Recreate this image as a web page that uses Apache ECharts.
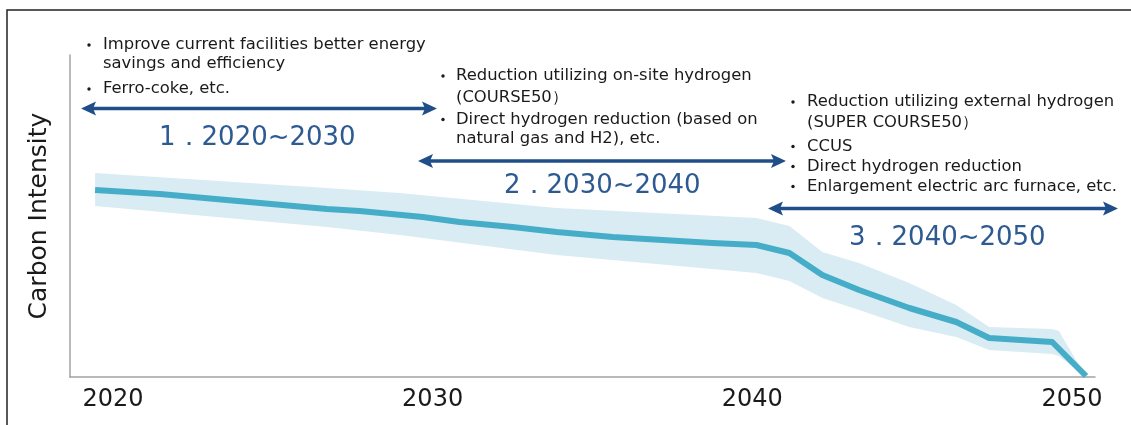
<!DOCTYPE html>
<html>
<head>
<meta charset="utf-8">
<script src="https://cdn.jsdelivr.net/npm/echarts@6/dist/echarts.min.js"></script>
<style>
html,body{margin:0;padding:0;background:#fff;}
#chart{width:1131px;height:425px;}
</style>
</head>
<body>
<div id="chart"></div>
<script>
// ---- data ----
const yearTicks = [2020, 2030, 2040, 2050];
const lineYears = [2019.44, 2021.47, 2026.69, 2027.72, 2029.69, 2030.84, 2032.5, 2033.88, 2035.63, 2037.19, 2038.75, 2040.13, 2041.16, 2042.19, 2043.34, 2044.91, 2046.38, 2047.41, 2049.38, 2050.44];
const lineValues = [187, 183, 168, 166, 160, 155, 150, 145, 140, 137, 134, 132, 124, 102, 87, 69, 55, 39, 35, 1];
const bandYears = [2019.44, 2026.69, 2028.97, 2033.88, 2040.13, 2041.16, 2042.19, 2043.34, 2044.91, 2046.38, 2047.41, 2049.38, 2049.59, 2050.44];
const bandUpper = [204, 189, 184, 169, 159, 151, 125, 114, 94, 72, 50, 48, 46, 0];
const bandLower = [171, 150, 142, 122, 104, 96, 79, 67, 50, 40, 27, 23, 21, 0];

const phaseLabels = ['1．2020~2030', '2．2030~2040', '3．2040~2050'];
const phase1 = ['Improve current facilities better energy', 'savings and efficiency', 'Ferro-coke, etc.'];
const phase2 = ['Reduction utilizing on-site hydrogen', '(COURSE50）', 'Direct hydrogen reduction (based on', 'natural gas and H2), etc.'];
const phase3 = ['Reduction utilizing external hydrogen', '(SUPER COURSE50）', 'CCUS', 'Direct hydrogen reduction', 'Enlargement electric arc furnace, etc.'];

// ---- styles ----
const FONT = '"DejaVu Sans", Verdana, sans-serif';
const TXT = '#1a1a1a';
const ARROW = '#1f4e88';
const LABEL = '#2c5a91';
const LINE = '#46adc8';
const BAND = '#daecf3';

function text(x, y, s, size, color) {
  return { type: 'text', x: x, y: y, silent: true,
    style: { text: s, fill: color || TXT, font: size + 'px ' + FONT, textVerticalAlign: 'middle', textAlign: 'left' } };
}
function bullet(x, y) {
  return { type: 'circle', silent: true, shape: { cx: x, cy: y, r: 1.7 }, style: { fill: TXT } };
}
function arrow(x1, x2, y) {
  const L = 15, H = 7, N = 3, T = 1.7;
  return [
    { type: 'rect', silent: true, shape: { x: x1 + L - N, y: y - T, width: (x2 - x1) - 2 * (L - N), height: 2 * T }, style: { fill: ARROW } },
    { type: 'polygon', silent: true, shape: { points: [[x1, y], [x1 + L, y - H], [x1 + L - N, y], [x1 + L, y + H]] }, style: { fill: ARROW } },
    { type: 'polygon', silent: true, shape: { points: [[x2, y], [x2 - L, y - H], [x2 - L + N, y], [x2 - L, y + H]] }, style: { fill: ARROW } }
  ];
}

const graphics = [];
graphics.push({ type: 'polyline', silent: true, shape: { points: [[7, 425], [7, 10], [1131, 10]] }, style: { stroke: '#222', lineWidth: 1.5, fill: null } });

const FS = 16.4;
const p1y = [45, 64, 89];
phase1.forEach((s, i) => graphics.push(text(103, p1y[i], s, FS)));
[0, 2].forEach(i => graphics.push(bullet(89, p1y[i])));
const p2y = [76, 98, 119.5, 139];
phase2.forEach((s, i) => graphics.push(text(456, p2y[i], s, FS)));
[0, 2].forEach(i => graphics.push(bullet(443, p2y[i])));
const p3y = [102, 123, 146.5, 166.5, 186.5];
phase3.forEach((s, i) => graphics.push(text(807, p3y[i], s, FS)));
[0, 2, 3, 4].forEach(i => graphics.push(bullet(793, p3y[i])));

graphics.push(...arrow(81, 437, 108.5));
graphics.push(...arrow(418, 786, 161));
graphics.push(...arrow(768, 1118, 208.5));

graphics.push(text(159, 138, phaseLabels[0], 26, LABEL));
graphics.push(text(504, 186, phaseLabels[1], 26, LABEL));
graphics.push(text(849, 238, phaseLabels[2], 26, LABEL));

const bandData = bandYears.map((x, i) => [x, bandLower[i], bandUpper[i]]);

const chart = echarts.init(document.getElementById('chart'), null, { renderer: 'canvas' });
chart.setOption({
  animation: false,
  backgroundColor: '#fff',
  grid: { left: 70, right: 36, top: 55, bottom: 48 },
  xAxis: {
    type: 'value', min: 2018.656, max: 2050.72,
    axisLine: { show: true, lineStyle: { color: '#a3a3a3', width: 1.5 } },
    axisTick: { show: false },
    splitLine: { show: false },
    axisLabel: { customValues: yearTicks, color: TXT, fontSize: 24, fontFamily: FONT, margin: 11, formatter: v => String(v) }
  },
  yAxis: {
    type: 'value', min: 0, max: 322,
    name: 'Carbon Intensity', nameLocation: 'middle', nameGap: 18,
    nameTextStyle: { color: TXT, fontSize: 25, fontFamily: FONT },
    axisLine: { show: true, lineStyle: { color: '#a3a3a3', width: 1.5 } },
    axisTick: { show: false }, axisLabel: { show: false }, splitLine: { show: false }
  },
  series: [
    { type: 'custom', name: 'band', silent: true, clip: false,
      data: bandData,
      encode: { x: 0, y: [1, 2] },
      renderItem: function (params, api) {
        if (params.dataIndex !== 0) return null;
        const upper = bandData.map(d => api.coord([d[0], d[2]]));
        const lower = bandData.map(d => api.coord([d[0], d[1]])).reverse();
        return { type: 'polygon', shape: { points: upper.concat(lower) }, style: { fill: BAND } };
      } },
    { type: 'line', name: 'intensity', symbol: 'none', silent: true, z: 3,
      data: lineYears.map((x, i) => [x, lineValues[i]]),
      lineStyle: { color: LINE, width: 6, join: 'round' } }
  ],
  graphic: graphics
});
</script>
</body>
</html>
